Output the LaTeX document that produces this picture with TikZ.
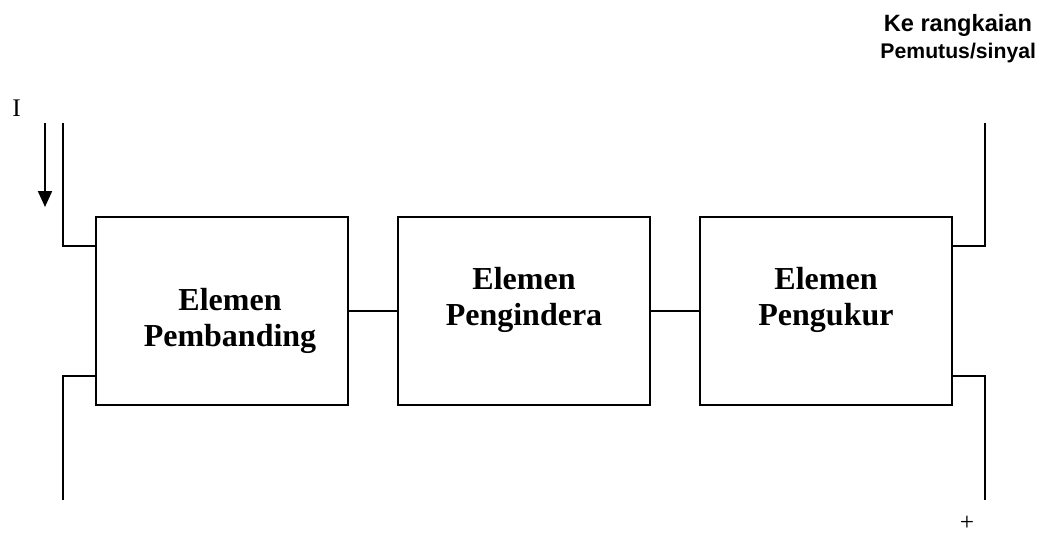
\documentclass[tikz,border=0pt]{standalone}
\usepackage{fontspec}
\setmainfont{Liberation Serif}
\newfontfamily\arialfont{Liberation Sans}
\usetikzlibrary{arrows.meta,calc}

\begin{document}
\begin{tikzpicture}[x=0.75pt,y=-0.75pt,line width=1.5pt,
    elemenbox/.style={draw,rectangle,inner sep=0pt,minimum width=189pt,minimum height=141pt},
    elementext/.style={align=center,font=\bfseries\fontsize{24}{27.5}\selectfont},
    notetext/.style={anchor=base east,inner sep=0pt,font=\arialfont\bfseries\fontsize{#1}{#1}\selectfont}]
    \useasboundingbox (0,0) rectangle (1044,533);
    % blocks
    \node[elemenbox] (pb) at (222,311) {};
    \node[elemenbox] (pi) at (524,311) {};
    \node[elemenbox] (pu) at (826,311) {};
    \node[elementext] (tpb) at (230,321) {Elemen\\Pembanding};
    \node[elementext] (tpi) at (524,300) {Elemen\\Pengindera};
    \node[elementext] (tpu) at (826,300) {Elemen\\Pengukur};
    \draw (pb.east) -- (pi.west);
    \draw (pi.east) -- (pu.west);
    % terminals
    \coordinate (inTop) at (63,123);
    \coordinate (inBot) at (63,500);
    \coordinate (outTop) at (985,123);
    \coordinate (outBot) at (985,500);
    \draw (inTop) |- ($(pb.north west)!0.16!(pb.south west)$);
    \draw (inBot) |- ($(pb.north west)!0.84!(pb.south west)$);
    \draw (outTop) |- ($(pu.north east)!0.16!(pu.south east)$);
    \draw (outBot) |- ($(pu.north east)!0.84!(pu.south east)$);
    % current
    \coordinate (arusA) at (45,123);
    \coordinate (arusB) at (45,207);
    \draw[-{Triangle[length=12pt,width=10.5pt]}] (arusA) -- (arusB);
    \node[anchor=base,font=\fontsize{19}{22}\selectfont] (arus) at (16.5,116) {I};
    \node[font=\fontsize{19}{22}\selectfont] (plus) at (967,523) {+};
    % note
    \node[notetext=17.7] (ke) at (1033,31) {Ke rangkaian};
    \node[notetext=15.9] (pemutus) at (1037,58) {Pemutus/sinyal};
\end{tikzpicture}
\end{document}
